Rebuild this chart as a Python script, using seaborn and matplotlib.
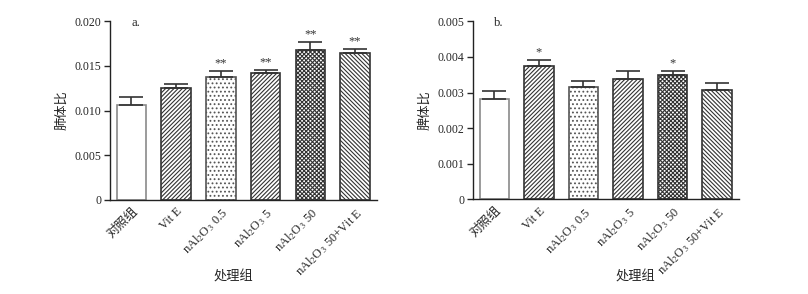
import matplotlib
matplotlib.use("Agg")
import matplotlib.pyplot as plt
import seaborn as sns
import numpy as np
import pandas as pd

sns.set_style("ticks")
plt.rcParams['font.family'] = ['Liberation Serif', 'Noto Sans CJK SC']
plt.rcParams['mathtext.fontset'] = 'stix'
plt.rcParams['hatch.linewidth'] = 0.8

categories = ['对照组', 'Vit E', r'nAl$_2$O$_3$ 0.5', r'nAl$_2$O$_3$ 5',
              r'nAl$_2$O$_3$ 50', r'nAl$_2$O$_3$ 50+Vit E']

lung_mean = [0.01058, 0.01248, 0.01378, 0.01416, 0.01676, 0.01639]
lung_err = [0.00092, 0.00048, 0.00060, 0.00040, 0.00086, 0.00048]
lung_sig = ['', '', '**', '**', '**', '**']

spleen_mean = [0.002826, 0.003744, 0.003146, 0.003371, 0.003483, 0.003070]
spleen_err = [0.000208, 0.000169, 0.000169, 0.000241, 0.000113, 0.000188]
spleen_sig = ['', '*', '', '', '*', '']

lung_ticks = [0, 0.005, 0.010, 0.015, 0.020]
lung_ticklabels = ['0', '0.005', '0.010', '0.015', '0.020']
spleen_ticks = [0, 0.001, 0.002, 0.003, 0.004, 0.005]
spleen_ticklabels = ['0', '0.001', '0.002', '0.003', '0.004', '0.005']

hatches = ['', '/' * 8, '....', '/' * 8, 'x' * 8, '\\' * 8]
edgecols = ['#8a8a8a', '#333333', '#555555', '#333333', '#333333', '#333333']

fig = plt.figure(figsize=(8.08, 2.94), dpi=100)
ax1 = fig.add_axes([110/808, 94/294, 267/808, 179/294])
ax2 = fig.add_axes([473/808, 94.7/294, 266/808, 178/294])


def draw(ax, means, errs, sig, ticks, ticklabels, ylabel, tag):
    df = pd.DataFrame({'group': categories, 'value': means})
    sns.barplot(data=df, x='group', y='value', ax=ax, color='white',
                width=0.66, errorbar=None, saturation=1)
    for i, p in enumerate(ax.patches):
        p.set_facecolor('white')
        p.set_hatch(hatches[i])
        p.set_edgecolor(edgecols[i])
        p.set_linewidth(1.2)
    x = np.arange(len(categories))
    ax.errorbar(x, means, yerr=[np.zeros(len(errs)), errs], fmt='none',
                ecolor='#333333', elinewidth=1.2, capsize=8.5, capthick=1.2)
    top = ticks[-1]
    for i, s in enumerate(sig):
        if s:
            ax.text(x[i], means[i] + errs[i] + top * 0.01, s, ha='center',
                    va='bottom', fontsize=9, color='#333333')
    ax.set_xlim(-0.48, 5.49)
    ax.set_ylim(0, top)
    ax.set_yticks(ticks)
    ax.set_yticklabels(ticklabels, fontsize=8.5)
    ax.set_xticks(x)
    ax.set_xticklabels(categories, rotation=45, ha='right',
                       rotation_mode='anchor', fontsize=9)
    ax.tick_params(axis='x', length=0, pad=4)
    ax.tick_params(axis='y', length=4, width=1, direction='out', pad=2)
    ax.set_xlabel('')
    ax.set_ylabel(ylabel, fontsize=9.5, labelpad=5)
    for sp in ['top', 'right']:
        ax.spines[sp].set_visible(False)
    for sp in ['left', 'bottom']:
        ax.spines[sp].set_linewidth(1.0)
        ax.spines[sp].set_color('#222222')
    ax.text(0.08, 0.99, tag, transform=ax.transAxes, fontsize=9,
            ha='left', va='center')


draw(ax1, lung_mean, lung_err, lung_sig, lung_ticks, lung_ticklabels, '肺体比', 'a.')
draw(ax2, spleen_mean, spleen_err, spleen_sig, spleen_ticks, spleen_ticklabels, '脾体比', 'b.')

fig.text(233/808, 1 - 277/294, '处理组', ha='center', va='center', fontsize=9.5)
fig.text(635/808, 1 - 277/294, '处理组', ha='center', va='center', fontsize=9.5)

fig.savefig('out.png', dpi=100)
